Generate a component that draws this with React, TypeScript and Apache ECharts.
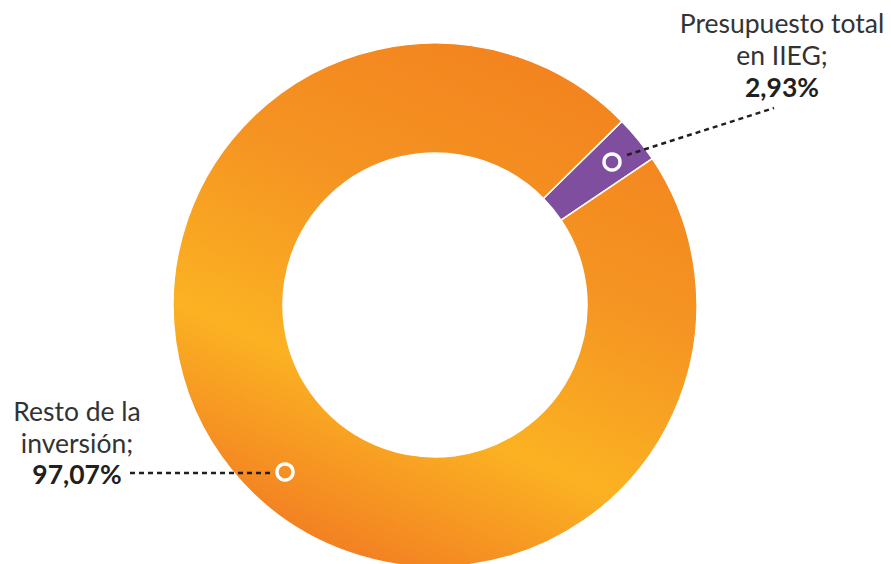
import React, { useEffect, useRef } from "react";
import * as echarts from "echarts";

const categories = ["Presupuesto total en IIEG", "Resto de la inversión"];
const labelLines = [["Presupuesto total", "en IIEG;"], ["Resto de la", "inversión;"]];
const values = [2.93, 97.07];

const W = 891;
const H = 564;
const CX = 435;
const CY = 305;
const R_IN = 152;
const R_OUT = 262;
const START = 44.5;
const FONT = "Lato, 'Noto Sans', sans-serif";

// callout layout (annotation positions)
const callouts = [
  { ring: [612, 162], lineFrom: [627, 155], lineTo: [774, 108], textX: 782, baselines: [33, 65, 97] },
  { ring: [285, 472], lineFrom: [270, 473], lineTo: [128, 473], textX: 77, baselines: [421, 453, 484] },
];

const fmt = (v: number) => v.toFixed(2).replace(".", ",") + "%";

export default function App() {
  const ref = useRef<HTMLDivElement>(null);
  useEffect(() => {
    if (!ref.current) return;
    const chart = echarts.init(ref.current, undefined, { renderer: "svg" });
    const orangeGrad = {
      type: "linear",
      x: 541,
      y: 66,
      x2: 330,
      y2: 541,
      global: true,
      colorStops: [
        { offset: 0, color: "#F3841F" },
        { offset: 0.35, color: "#F59422" },
        { offset: 0.7, color: "#FBB222" },
        { offset: 1, color: "#F38222" },
      ],
    };
    const sliceColors: any[] = ["#7F4E9E", orangeGrad];
    const fs = 26.5;
    const graphics: any[] = [];
    callouts.forEach((c, i) => {
      graphics.push({
        type: "line",
        shape: { x1: c.lineFrom[0], y1: c.lineFrom[1], x2: c.lineTo[0], y2: c.lineTo[1] },
        style: { stroke: "#231F20", lineWidth: 2.5, lineDash: [5, 4] },
        z: 10,
      });
      graphics.push({
        type: "circle",
        shape: { cx: c.ring[0], cy: c.ring[1], r: 8 },
        style: { fill: "none", stroke: "#FFFFFF", lineWidth: 3.5 },
        z: 11,
      });
      const texts = [...labelLines[i], fmt(values[i])];
      texts.forEach((t, j) => {
        graphics.push({
          type: "text",
          x: c.textX,
          y: c.baselines[j] - fs * 0.36,
          style: {
            text: t,
            fontFamily: FONT,
            fontSize: fs,
            fontWeight: j === 2 ? "bold" : "normal",
            fill: j === 2 ? "#231F20" : "#333333",
            align: "center",
            verticalAlign: "middle",
          },
          z: 12,
        });
      });
    });
    chart.setOption({
      animation: false,
      backgroundColor: "#FFFFFF",
      series: [
        {
          type: "pie",
          center: [CX, CY],
          radius: [R_IN, R_OUT],
          startAngle: START,
          clockwise: true,
          silent: true,
          label: { show: false },
          labelLine: { show: false },
          emphasis: { disabled: true },
          itemStyle: { borderColor: "#FFFFFF", borderWidth: 1.5 },
          data: categories.map((name, i) => ({
            name,
            value: values[i],
            itemStyle: { color: sliceColors[i] },
          })),
        },
      ],
      graphic: graphics,
    });
    return () => chart.dispose();
  }, []);
  return (
    <div
      ref={ref}
      style={{ position: "absolute", left: 0, top: 0, width: W, height: H }}
    />
  );
}
